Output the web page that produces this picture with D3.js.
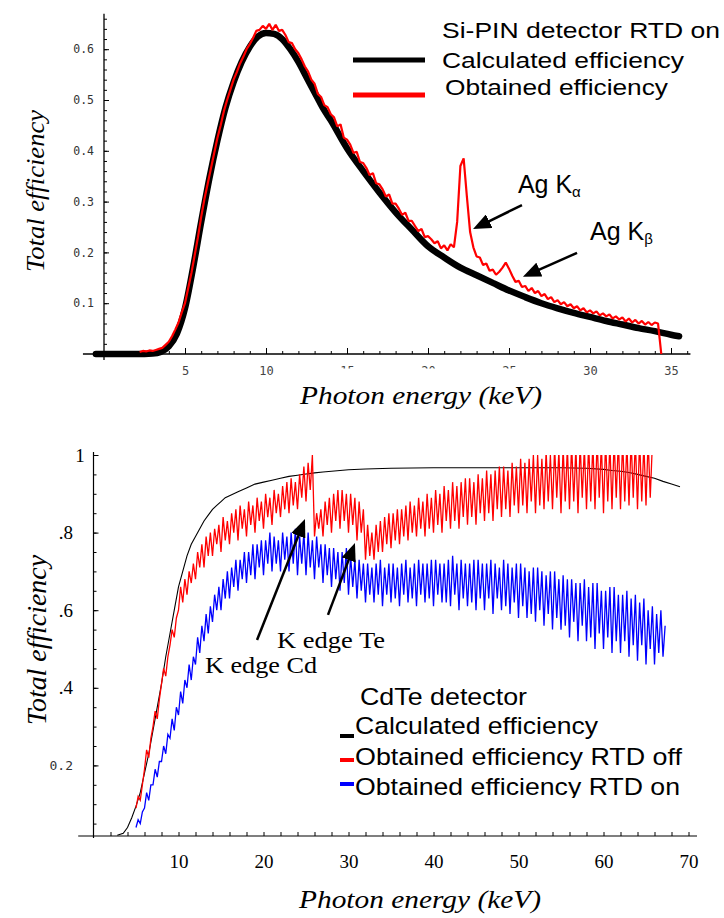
<!DOCTYPE html>
<html>
<head>
<meta charset="utf-8">
<script src="https://cdn.jsdelivr.net/npm/d3@7"></script>
<style>
  body { margin: 0; background: #fff; }
  svg { display: block; }
</style>
</head>
<body>
<script>
// ---------- top panel data (Si-PIN) ----------
const topCalcE = [-0.5,1,2,3,3.5,4,4.5,5,5.5,6,6.5,7,7.5,8,8.5,9,9.5,10,10.5,11,11.5,12,12.5,13,13.5,14,
    15,16,17,18,19,20,21,22,23,24,25,26,27,28,29,30,31,32,33,34,35,35.5];
const topCalc = [0,0,0,.001,.004,.015,.04,.09,.17,.26,.345,.42,.485,.535,.575,.605,.625,.632,.63,.62,.6,.575,.545,.515,.485,.46,
    .405,.36,.318,.279,.245,.212,.19,.17,.155,.14,.125,.112,.1,.09,.081,.073,.065,.058,.051,.045,.038,.035];

// obtained efficiency, channels from 2.2 keV every 0.2 keV
const topObsStart = 2.2;
const topObsStep = 0.2;
const topObs = [
    .004,.006,.005,.007,.006,
    .008,.01,.012,.018,.024,
    .035,.048,.062,.082,.10,
    .13,.16,.195,.23,.27,
    .305,.335,.365,.395,.425,
    .45,.478,.5,.52,.54,
    .555,.572,.585,.60,.61,
    .622,.636,.638,.646,.64,
    .65,.638,.648,.636,.638,
    .628,.614,.612,.6,.592,
    .58,.566,.556,.54,.532,
    .512,.506,.49,.486,.472,
    .466,.448,.452,.426,.422,
    .412,.396,.398,.378,.376,
    .366,.352,.356,.336,.334,
    .324,.31,.314,.296,.296,
    .286,.274,.278,.262,.262,
    .252,.242,.246,.23,.232,
    .226,.218,.222,.208,.214,
    .204,.216,.21,.26,.37,
    .385,.31,.24,.21,.192,
    .19,.175,.178,.164,.166,
    .156,.162,.17,.18,.168,
    .154,.142,.144,.132,.134,
    .124,.13,.12,.124,.114,
    .118,.108,.112,.102,.106,
    .098,.102,.094,.098,.09,
    .094,.086,.09,.082,.086,
    .08,.084,.076,.08,.074,
    .078,.07,.074,.068,.072,
    .064,.07,.062,.067,.06,
    .065,.058,.063,.057,.062,
    .06,0
];

const topMajorX = [5,10,15,20,25,30,35];
const topHiddenX = [15,20,25];
const topMajorY = [0.1,0.2,0.3,0.4,0.5,0.6];

// ---------- bottom panel data (CdTe) ----------
const botCalcE = [2.8,3.5,4,4.5,5,5.5,6,6.5,7,7.5,8,8.5,9,9.5,10,10.5,11,11.5,12,12.5,13,13.5,14,14.5,15,15.5,16,
    17,18,19,20,21,22,23,24,25,26,27,28,29,30,32,35,40,45,50,55,58,60,61,62,63,64,65,66,67,68,69];
const botCalc = [.02,.025,.04,.065,.095,.13,.18,.23,.29,.35,.41,.48,.54,.60,.66,.70,.74,.77,.79,.81,.83,.845,.86,.87,.88,.89,.895,
    .905,.915,.925,.93,.935,.94,.945,.948,.951,.954,.956,.958,.96,.962,.964,.966,.967,.967,.967,.967,.966,.963,.96,.958,.955,.95,.945,.94,.932,.925,.918];

// measured efficiencies, channels from 5 keV every 0.25 keV
const botObsStart = 5;
const botObsStep = 0.25;
const rtdOff = [
    .09,.12,.11,.15, .19,.24,.22,.27, .30,.34,.32,.37, .41,.45,.43,.48, .51,.55,.53,.58,
    .60,.66,.62,.68, .64,.70,.67,.72, .68,.75,.71,.77, .71,.79,.74,.80, .74,.81,.77,.82,
    .75,.84,.78,.83, .77,.85,.80,.86, .78,.87,.81,.86, .79,.88,.82,.87, .80,.89,.83,.88,
    .81,.90,.84,.89, .82,.91,.85,.90, .84,.92,.86,.93, .85,.94,.87,.93, .86,.95,.89,.97,
    .88,.98,.91,1.0, .79,.85,.81,.86, .79,.88,.82,.89, .80,.90,.83,.91, .81,.91,.83,.90,
    .80,.90,.82,.89, .78,.88,.80,.86, .73,.82,.74,.80, .73,.82,.75,.83, .75,.84,.77,.85,
    .76,.85,.78,.86, .77,.86,.79,.87, .78,.88,.80,.87, .79,.89,.81,.88, .79,.90,.81,.89,
    .80,.91,.82,.90, .80,.92,.83,.91, .81,.93,.83,.92, .81,.93,.84,.94, .82,.94,.84,.93,
    .82,.95,.85,.94, .83,.96,.85,.95, .83,.96,.86,.97, .84,.97,.86,.96, .84,.98,.87,.97,
    .85,.99,.87,.98, .85,.99,.88,1.0, .85,1.0,.87,.99, .86,1.01,.88,1.0, .86,1.02,.89,1.01,
    .85,1.02,.88,1.02, .86,1.03,.88,1.02, .85,1.03,.89,1.02, .86,1.03,.88,1.03, .86,1.04,.89,1.03,
    .85,1.04,.88,1.03, .86,1.04,.89,1.04, .86,1.04,.88,1.03, .87,1.04,.89,1.04, .86,1.04,.88,1.03,
    .87,1.04,.89,1.03
];
const rtdOn = [
    .04,.06,.05,.08, .09,.13,.11,.15, .15,.19,.17,.21, .21,.25,.23,.28, .27,.32,.29,.35,
    .33,.39,.36,.42, .40,.46,.42,.48, .46,.53,.49,.56, .52,.59,.54,.61, .57,.64,.60,.66,
    .60,.68,.63,.70, .63,.71,.66,.73, .65,.73,.68,.75, .67,.75,.69,.77, .68,.77,.71,.78,
    .69,.78,.72,.80, .70,.79,.72,.78, .70,.80,.73,.79, .70,.80,.72,.81, .69,.79,.72,.80,
    .69,.80,.71,.78, .68,.79,.71,.77, .67,.77,.69,.76, .66,.76,.68,.75, .65,.75,.67,.76,
    .64,.74,.66,.73, .63,.73,.65,.72, .62,.72,.64,.71, .62,.72,.64,.73, .61,.71,.64,.72,
    .62,.72,.63,.71, .61,.72,.64,.73, .62,.71,.63,.72, .61,.73,.64,.72, .62,.72,.63,.73,
    .61,.73,.64,.72, .62,.72,.62,.73, .61,.74,.64,.72, .60,.73,.63,.72, .61,.72,.62,.73,
    .60,.73,.63,.72, .60,.72,.63,.73, .59,.72,.63,.71, .60,.73,.61,.72, .59,.71,.62,.72,
    .58,.72,.61,.71, .58,.70,.59,.71, .57,.71,.60,.70, .56,.69,.59,.70, .55,.70,.58,.68,
    .55,.69,.56,.68, .53,.68,.57,.67, .52,.67,.56,.68, .52,.66,.53,.67, .50,.67,.54,.65,
    .50,.65,.53,.66, .49,.66,.52,.64, .49,.64,.52,.65, .48,.63,.51,.64, .47,.62,.51,.63,
    .46,.60,.50,.61, .46,.59,.49,.60, .48,.56
];

const botMajorX = [10,20,30,40,50,60,70];
const botMajorY = [0.2,0.4,0.6,0.8,1];
const botYLabels = ['0.2','.4','.6','.8','1'];

const topLegend = ['Si-PIN detector RTD on', 'Calculated efficiency', 'Obtained efficiency'];
const botLegend = ['CdTe detector', 'Calculated efficiency', 'Obtained efficiency RTD off', 'Obtained efficiency RTD on'];

const topNotes = [
    {text: 'Ag K', sub: '\u03b1', e: 25.55, v: 0.317, from: [25.8, 0.293], to: [22.78, 0.246]},
    {text: 'Ag K', sub: '\u03b2', e: 30.0, v: 0.224, from: [29.2, 0.199], to: [25.86, 0.152]}
];
const botNotes = [
    {text: 'K edge Cd', e: 13.12, v: 0.438, len: 112, from: [19.24, 0.523], to: [24.88, 0.835]},
    {text: 'K edge Te', e: 21.6, v: 0.503, len: 108, from: [27.59, 0.588], to: [30.76, 0.773]}
];

const SANS = "'Liberation Sans', Arial, sans-serif";
const SERIF = "'Liberation Serif', 'Times New Roman', serif";
const MONO = "'DejaVu Sans Mono', monospace";

const svg = d3.select('body').append('svg')
    .attr('width', 724)
    .attr('height', 918);

const defs = svg.append('defs');
defs.append('marker')
    .attr('id', 'head')
    .attr('markerUnits', 'userSpaceOnUse')
    .attr('viewBox', '0 0 18 15')
    .attr('refX', 18).attr('refY', 7.5)
    .attr('markerWidth', 18).attr('markerHeight', 15)
    .attr('orient', 'auto')
    .append('path').attr('d', 'M0,0 L18,7.5 L0,15 Z').attr('fill', '#000');

function drawArrow(g, x1, y1, x2, y2)
{
    const dx = x2 - x1, dy = y2 - y1;
    const len = Math.hypot(dx, dy);
    const k = (len - 8) / len;
    g.append('line')
        .attr('x1', x1).attr('y1', y1)
        .attr('x2', x1 + dx * k).attr('y2', y1 + dy * k)
        .attr('stroke', '#000').attr('stroke-width', 2.5);
    g.append('path')
        .attr('d', `M${x1 + dx * k},${y1 + dy * k}L${x2},${y2}`)
        .attr('stroke', 'none').attr('fill', 'none')
        .attr('marker-end', 'url(#head)');
}

// =================== TOP PANEL ===================
const xTop = d3.scaleLinear().domain([0, 35]).range([104, 671]);
const yTop = d3.scaleLinear().domain([0, 0.6]).range([354, 49.2]);
const topG = svg.append('g');

// axis lines
topG.append('line')
    .attr('x1', xTop(-1.3)).attr('x2', xTop(36.2))
    .attr('y1', yTop(0)).attr('y2', yTop(0))
    .attr('stroke', '#000').attr('stroke-width', 1.3);
topG.append('line')
    .attr('x1', xTop(0)).attr('x2', xTop(0))
    .attr('y1', yTop(-0.012)).attr('y2', yTop(0.67))
    .attr('stroke', '#000').attr('stroke-width', 1.3);

topG.append('g')
    .attr('transform', `translate(0,${yTop(0)})`)
    .call(d3.axisBottom(xTop).tickValues(d3.range(1, 37)).tickSize(-3).tickFormat(''))
    .call(g => g.select('.domain').remove());

defs.append('clipPath').attr('id', 'labelTop')
    .append('rect').attr('x', -40).attr('y', -10).attr('width', 80).attr('height', 24.5);

topG.append('g')
    .attr('transform', `translate(0,${yTop(0)})`)
    .call(d3.axisBottom(xTop).tickValues(topMajorX).tickSize(-6).tickPadding(12).tickFormat(d3.format('d')))
    .attr('font-family', MONO).attr('font-size', 12)
    .call(g => g.select('.domain').remove())
    .call(g => g.selectAll('text').attr('fill', '#444'))
    .call(g => g.selectAll('.tick text')
        .filter(d => topHiddenX.includes(d))
        .attr('clip-path', 'url(#labelTop)'));

topG.append('g')
    .attr('transform', `translate(${xTop(0)},0)`)
    .call(d3.axisLeft(yTop).tickValues(d3.range(0.02, 0.67, 0.02)).tickSize(-3).tickFormat(''))
    .call(g => g.select('.domain').remove());

topG.append('g')
    .attr('transform', `translate(${xTop(0)},0)`)
    .call(d3.axisLeft(yTop).tickValues(topMajorY).tickSize(-5).tickPadding(10).tickFormat(d3.format('.1f')))
    .attr('font-family', MONO).attr('font-size', 11.5)
    .call(g => g.select('.domain').remove())
    .call(g => g.selectAll('text').attr('fill', '#333'));

// curves
const topCalcLine = d3.line()
    .x((d, i) => xTop(topCalcE[i]))
    .y(d => yTop(d))
    .curve(d3.curveMonotoneX);
topG.append('path')
    .attr('d', topCalcLine(topCalc))
    .attr('fill', 'none').attr('stroke', '#000')
    .attr('stroke-width', 6.5)
    .attr('stroke-linecap', 'round').attr('stroke-linejoin', 'round');

const topObsLine = d3.line()
    .x((d, i) => xTop(topObsStart + i * topObsStep))
    .y(d => yTop(d));
topG.append('path')
    .attr('d', topObsLine(topObs))
    .attr('fill', 'none').attr('stroke', '#f00')
    .attr('stroke-width', 2.2)
    .attr('stroke-linejoin', 'bevel');

// titles
topG.append('text')
    .attr('x', 421).attr('y', 404)
    .attr('text-anchor', 'middle')
    .attr('font-family', SERIF).attr('font-style', 'italic').attr('font-size', 25)
    .attr('textLength', 242).attr('lengthAdjust', 'spacingAndGlyphs')
    .text('Photon energy (keV)');
topG.append('text')
    .attr('transform', 'translate(44,191) rotate(-90)')
    .attr('text-anchor', 'middle')
    .attr('font-family', SERIF).attr('font-style', 'italic').attr('font-size', 26)
    .attr('textLength', 162).attr('lengthAdjust', 'spacingAndGlyphs')
    .text('Total efficiency');

// legend
const topLegY = [38, 68, 95];
const topLegW = [278, 242, 223];
const topLegX = [442, 442, 445];
topG.selectAll('.legtext')
    .data(topLegend)
    .enter()
    .append('text')
    .attr('x', (d, i) => topLegX[i]).attr('y', (d, i) => topLegY[i])
    .attr('font-family', SANS).attr('font-size', 22.5)
    .attr('textLength', (d, i) => topLegW[i]).attr('lengthAdjust', 'spacingAndGlyphs')
    .text(d => d);
topG.append('line').attr('x1', 353).attr('x2', 425).attr('y1', 60).attr('y2', 60)
    .attr('stroke', '#000').attr('stroke-width', 5);
topG.append('line').attr('x1', 353).attr('x2', 425).attr('y1', 95).attr('y2', 95)
    .attr('stroke', '#f00').attr('stroke-width', 5);

// annotations
topNotes.forEach(n =>
{
    const t = topG.append('text')
        .attr('x', xTop(n.e)).attr('y', yTop(n.v))
        .attr('font-family', SANS).attr('font-size', 25)
        .text(n.text);
    t.append('tspan').attr('font-size', 15).attr('dy', 4).text(n.sub);
    drawArrow(topG, xTop(n.from[0]), yTop(n.from[1]), xTop(n.to[0]), yTop(n.to[1]));
});

// =================== BOTTOM PANEL ===================
const xBot = d3.scaleLinear().domain([0, 70]).range([93.5, 688.5]);
const yBot = d3.scaleLinear().domain([0, 1]).range([843, 455]);
const botAxisV = 0.018;
const botG = svg.append('g');

botG.append('line')
    .attr('x1', xBot(-1.8)).attr('x2', xBot(71))
    .attr('y1', yBot(botAxisV)).attr('y2', yBot(botAxisV))
    .attr('stroke', '#000').attr('stroke-width', 1.2);
botG.append('line')
    .attr('x1', xBot(0)).attr('x2', xBot(0))
    .attr('y1', yBot(botAxisV) + 2).attr('y2', yBot(1.008))
    .attr('stroke', '#000').attr('stroke-width', 1.2);

botG.append('g')
    .attr('transform', `translate(0,${yBot(botAxisV)})`)
    .call(d3.axisBottom(xBot).tickValues(d3.range(2, 71, 2)).tickSize(-4).tickPadding(18).tickFormat(d => botMajorX.includes(d) ? d : ''))
    .attr('font-family', SERIF).attr('font-size', 19)
    .call(g => g.select('.domain').remove())
    .call(g => g.selectAll('text').attr('fill', '#000'));

botG.append('g')
    .attr('transform', `translate(${xBot(0)},0)`)
    .call(d3.axisLeft(yBot).tickValues(d3.range(0.05, 1.01, 0.05)).tickSize(-3).tickFormat(''))
    .call(g => g.select('.domain').remove());
botG.append('g')
    .attr('transform', `translate(${xBot(0)},0)`)
    .call(d3.axisLeft(yBot).tickValues(botMajorY).tickSize(-5).tickFormat(''))
    .call(g => g.select('.domain').remove());

botG.selectAll('.ylab')
    .data(botMajorY)
    .enter()
    .append('text')
    .attr('x', (d, i) => botYLabels[i] === '1' ? 80 : 73)
    .attr('y', d => yBot(d))
    .attr('dy', '0.35em')
    .attr('text-anchor', (d, i) => botYLabels[i] === '1' ? 'middle' : 'end')
    .attr('font-family', (d, i) => botYLabels[i] === '0.2' ? MONO : SERIF)
    .attr('font-size', (d, i) => botYLabels[i] === '0.2' ? 13 : 19)
    .attr('fill', (d, i) => botYLabels[i] === '0.2' ? '#333' : '#000')
    .text((d, i) => botYLabels[i]);

defs.append('clipPath').attr('id', 'plotBot')
    .append('rect')
    .attr('x', xBot(0)).attr('y', yBot(1))
    .attr('width', xBot(71) - xBot(0)).attr('height', yBot(botAxisV) - yBot(1));

const plotBot = botG.append('g').attr('clip-path', 'url(#plotBot)');

const botCalcLine = d3.line()
    .x((d, i) => xBot(botCalcE[i]))
    .y(d => yBot(d));
plotBot.append('path')
    .attr('d', botCalcLine(botCalc))
    .attr('fill', 'none').attr('stroke', '#000').attr('stroke-width', 1.1);

const botObsLine = d3.line()
    .x((d, i) => xBot(botObsStart + i * botObsStep))
    .y(d => yBot(d));
plotBot.append('path')
    .attr('d', botObsLine(rtdOff))
    .attr('fill', 'none').attr('stroke', '#f00').attr('stroke-width', 1.3);
plotBot.append('path')
    .attr('d', botObsLine(rtdOn))
    .attr('fill', 'none').attr('stroke', '#00f').attr('stroke-width', 1.3);

// titles
botG.append('text')
    .attr('x', 420).attr('y', 908)
    .attr('text-anchor', 'middle')
    .attr('font-family', SERIF).attr('font-style', 'italic').attr('font-size', 25)
    .attr('textLength', 242).attr('lengthAdjust', 'spacingAndGlyphs')
    .text('Photon energy (keV)');
botG.append('text')
    .attr('transform', 'translate(46,640) rotate(-90)')
    .attr('text-anchor', 'middle')
    .attr('font-family', SERIF).attr('font-style', 'italic').attr('font-size', 27)
    .attr('textLength', 170).attr('lengthAdjust', 'spacingAndGlyphs')
    .text('Total efficiency');

// legend (last row is cut off at the bottom, as in the figure)
defs.append('clipPath').attr('id', 'legBot')
    .append('rect').attr('x', 330).attr('y', 670).attr('width', 394).attr('height', 128);
const legBot = botG.append('g').attr('clip-path', 'url(#legBot)');
const botLegY = [705, 734, 765, 795];
const botLegX = [360, 355, 355, 355];
const botLegW = [167, 243, 327, 325];
legBot.selectAll('text')
    .data(botLegend)
    .enter()
    .append('text')
    .attr('x', (d, i) => botLegX[i]).attr('y', (d, i) => botLegY[i])
    .attr('font-family', SANS).attr('font-size', 24.5)
    .attr('textLength', (d, i) => botLegW[i]).attr('lengthAdjust', 'spacingAndGlyphs')
    .text(d => d);
const botLegLines = [[736, '#000'], [760, '#f00'], [784, '#00f']];
legBot.selectAll('line')
    .data(botLegLines)
    .enter()
    .append('line')
    .attr('x1', 340).attr('x2', 354)
    .attr('y1', d => d[0]).attr('y2', d => d[0])
    .attr('stroke', d => d[1]).attr('stroke-width', 4);

// annotations
botNotes.forEach(n =>
{
    botG.append('text')
        .attr('x', xBot(n.e)).attr('y', yBot(n.v))
        .attr('font-family', SERIF).attr('font-size', 23)
        .attr('textLength', n.len).attr('lengthAdjust', 'spacingAndGlyphs')
        .text(n.text);
    drawArrow(botG, xBot(n.from[0]), yBot(n.from[1]), xBot(n.to[0]), yBot(n.to[1]));
});
</script>
</body>
</html>
